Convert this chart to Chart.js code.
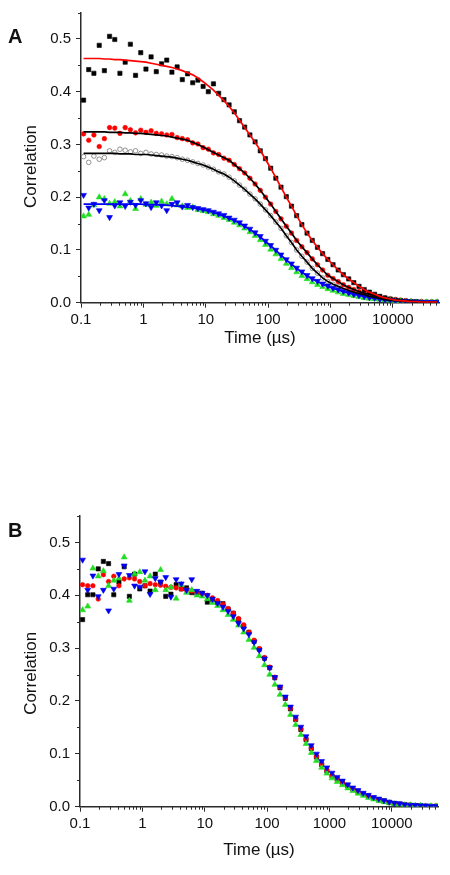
<!DOCTYPE html>
<html>
<head>
<meta charset="utf-8">
<title>Correlation vs time</title>
<script src="https://cdn.jsdelivr.net/npm/chart.js@4.4.1/dist/chart.umd.min.js"></script>
<style>
  html, body { margin: 0; padding: 0; background: #fff; }
  body { width: 450px; height: 875px; position: relative; overflow: hidden; }
  canvas { position: absolute; left: 0; }
  #ch-a { top: 0; }
  #ch-b { top: 460px; }
</style>
</head>
<body>
<canvas id="ch-a" width="450" height="360"></canvas>
<canvas id="ch-b" width="450" height="415"></canvas>
<script>
// lag times (µs), shared by every curve
const tau = [
  0.11, 0.133, 0.161, 0.196, 0.237, 0.287, 0.348, 0.421, 0.511, 0.619, 0.749, 0.908,
  1.1, 1.33, 1.61, 1.96, 2.37, 2.87, 3.48, 4.21, 5.11, 6.19, 7.49, 9.08,
  11, 13.3, 16.1, 19.6, 23.7, 28.7, 34.8, 42.1, 51.1, 61.9, 74.9, 90.8,
  110, 133, 161, 196, 237, 287, 348, 421, 511, 619, 749, 908,
  1100, 1330, 1610, 1960, 2370, 2870, 3480, 4210, 5110, 6190, 7490, 9080,
  11000, 13300, 16100, 19600, 23700, 28700, 34800, 42100, 51100
];

// --- panel A ---
const aSquares = [
  0.384, 0.442, 0.435, 0.488, 0.440, 0.505, 0.499, 0.435, 0.456, 0.490, 0.431, 0.474,
  0.443, 0.466, 0.438, 0.453, 0.460, 0.437, 0.447, 0.423, 0.434, 0.417, 0.422, 0.410,
  0.400, 0.415, 0.397, 0.385, 0.375, 0.362, 0.345, 0.333, 0.318, 0.305, 0.288, 0.273,
  0.255, 0.236, 0.219, 0.201, 0.183, 0.165, 0.148, 0.132, 0.118, 0.105, 0.093, 0.082,
  0.072, 0.062, 0.053, 0.045, 0.038, 0.031, 0.025, 0.020, 0.016, 0.012, 0.009, 0.007,
  0.005, 0.004, 0.003, 0.002, 0.002, 0.001, 0.001, 0.001, 0.001
];
const aFitSquares = [
  0.463, 0.463, 0.463, 0.463, 0.462, 0.462, 0.461, 0.461, 0.460, 0.459, 0.458, 0.457,
  0.456, 0.454, 0.452, 0.450, 0.448, 0.446, 0.443, 0.440, 0.436, 0.432, 0.426, 0.419,
  0.411, 0.403, 0.393, 0.383, 0.372, 0.360, 0.346, 0.332, 0.318, 0.304, 0.289, 0.272,
  0.255, 0.237, 0.219, 0.200, 0.183, 0.165, 0.148, 0.132, 0.118, 0.105, 0.093, 0.082,
  0.072, 0.062, 0.053, 0.045, 0.038, 0.031, 0.025, 0.020, 0.016, 0.012, 0.009, 0.007,
  0.005, 0.004, 0.003, 0.002, 0.002, 0.001, 0.001, 0.001, 0.001
];
const aCircles = [
  0.320, 0.308, 0.318, 0.296, 0.311, 0.332, 0.331, 0.321, 0.332, 0.328, 0.322, 0.327,
  0.323, 0.326, 0.321, 0.320, 0.318, 0.319, 0.313, 0.311, 0.309, 0.303, 0.301, 0.294,
  0.291, 0.284, 0.281, 0.274, 0.270, 0.262, 0.254, 0.246, 0.236, 0.225, 0.213, 0.200,
  0.187, 0.173, 0.159, 0.145, 0.132, 0.118, 0.106, 0.095, 0.083, 0.072, 0.062, 0.052,
  0.046, 0.040, 0.034, 0.029, 0.025, 0.021, 0.018, 0.016, 0.013, 0.011, 0.009, 0.007,
  0.006, 0.005, 0.004, 0.003, 0.002, 0.002, 0.001, 0.001, 0.001
];
const aFitCircles = [
  0.324, 0.324, 0.324, 0.324, 0.324, 0.323, 0.323, 0.323, 0.322, 0.322, 0.321, 0.321,
  0.320, 0.319, 0.318, 0.317, 0.316, 0.314, 0.312, 0.310, 0.308, 0.304, 0.300, 0.295,
  0.290, 0.285, 0.280, 0.275, 0.270, 0.262, 0.254, 0.246, 0.236, 0.225, 0.213, 0.200,
  0.187, 0.173, 0.159, 0.145, 0.132, 0.118, 0.106, 0.095, 0.083, 0.072, 0.062, 0.052,
  0.046, 0.040, 0.034, 0.029, 0.025, 0.021, 0.018, 0.016, 0.013, 0.011, 0.009, 0.007,
  0.006, 0.005, 0.004, 0.003, 0.002, 0.002, 0.001, 0.001, 0.001
];
const aOpen = [
  0.277, 0.266, 0.278, 0.272, 0.275, 0.288, 0.285, 0.291, 0.289, 0.286, 0.288, 0.283,
  0.285, 0.282, 0.281, 0.280, 0.278, 0.277, 0.275, 0.272, 0.270, 0.267, 0.264, 0.261,
  0.257, 0.253, 0.248, 0.244, 0.238, 0.231, 0.223, 0.215, 0.206, 0.197, 0.187, 0.176,
  0.165, 0.153, 0.141, 0.127, 0.114, 0.100, 0.088, 0.077, 0.065, 0.056, 0.047, 0.040,
  0.035, 0.031, 0.027, 0.023, 0.020, 0.017, 0.015, 0.012, 0.010, 0.008, 0.006, 0.005,
  0.004, 0.003, 0.002, 0.002, 0.001, 0.001, 0.001, 0.001, 0.001
];
const aFitOpen = [
  0.283, 0.283, 0.283, 0.283, 0.283, 0.283, 0.283, 0.282, 0.282, 0.282, 0.281, 0.281,
  0.281, 0.280, 0.279, 0.278, 0.277, 0.276, 0.274, 0.272, 0.270, 0.267, 0.264, 0.261,
  0.257, 0.253, 0.248, 0.244, 0.238, 0.231, 0.223, 0.215, 0.206, 0.197, 0.187, 0.176,
  0.165, 0.153, 0.141, 0.127, 0.114, 0.100, 0.088, 0.077, 0.065, 0.056, 0.047, 0.040,
  0.035, 0.031, 0.027, 0.023, 0.020, 0.017, 0.015, 0.012, 0.010, 0.008, 0.006, 0.005,
  0.004, 0.003, 0.002, 0.002, 0.001, 0.001, 0.001, 0.001, 0.001
];
const aGreen = [
  0.164, 0.167, 0.185, 0.200, 0.197, 0.188, 0.191, 0.183, 0.206, 0.193, 0.178, 0.197,
  0.186, 0.190, 0.184, 0.192, 0.187, 0.197, 0.185, 0.183, 0.180, 0.181, 0.176, 0.174,
  0.172, 0.168, 0.165, 0.161, 0.157, 0.152, 0.147, 0.141, 0.134, 0.127, 0.119, 0.110,
  0.101, 0.092, 0.083, 0.074, 0.066, 0.058, 0.051, 0.045, 0.039, 0.034, 0.030, 0.026,
  0.023, 0.020, 0.017, 0.015, 0.013, 0.011, 0.009, 0.008, 0.007, 0.006, 0.005, 0.004,
  0.003, 0.003, 0.002, 0.002, 0.001, 0.001, 0.001, 0.001, 0.001
];
const aBlue = [
  0.204, 0.180, 0.187, 0.175, 0.194, 0.162, 0.184, 0.190, 0.183, 0.191, 0.185, 0.194,
  0.188, 0.181, 0.190, 0.184, 0.175, 0.187, 0.190, 0.182, 0.185, 0.181, 0.179, 0.177,
  0.175, 0.172, 0.169, 0.166, 0.161, 0.157, 0.152, 0.146, 0.140, 0.133, 0.126, 0.117,
  0.109, 0.100, 0.091, 0.082, 0.074, 0.066, 0.059, 0.052, 0.046, 0.041, 0.036, 0.032,
  0.028, 0.025, 0.022, 0.019, 0.016, 0.014, 0.012, 0.010, 0.009, 0.007, 0.006, 0.005,
  0.004, 0.003, 0.003, 0.002, 0.002, 0.001, 0.001, 0.001, 0.001
];
const aFitBlue = [
  0.187, 0.187, 0.187, 0.187, 0.187, 0.187, 0.187, 0.187, 0.187, 0.187, 0.187, 0.187,
  0.186, 0.186, 0.186, 0.185, 0.185, 0.184, 0.183, 0.182, 0.181, 0.180, 0.178, 0.176,
  0.174, 0.171, 0.168, 0.164, 0.160, 0.156, 0.151, 0.145, 0.139, 0.132, 0.125, 0.116,
  0.108, 0.099, 0.090, 0.081, 0.073, 0.065, 0.058, 0.051, 0.045, 0.040, 0.035, 0.031,
  0.027, 0.024, 0.021, 0.018, 0.016, 0.014, 0.012, 0.010, 0.008, 0.007, 0.005, 0.004,
  0.004, 0.003, 0.002, 0.002, 0.001, 0.001, 0.001, 0.001, 0.001
];

// --- panel B (normalised curves) ---
const bBlack = [
  0.354, 0.401, 0.401, 0.450, 0.464, 0.460, 0.401, 0.425, 0.454, 0.398, 0.440, 0.412,
  0.418, 0.408, 0.440, 0.425, 0.398, 0.402, 0.420, 0.412, 0.414, 0.405, 0.404, 0.404,
  0.387, 0.392, 0.386, 0.384, 0.374, 0.366, 0.354, 0.341, 0.330, 0.313, 0.298, 0.281,
  0.263, 0.244, 0.225, 0.205, 0.185, 0.165, 0.146, 0.127, 0.110, 0.094, 0.080, 0.068,
  0.058, 0.052, 0.046, 0.040, 0.034, 0.029, 0.024, 0.020, 0.016, 0.013, 0.011, 0.008,
  0.006, 0.005, 0.004, 0.003, 0.002, 0.002, 0.001, 0.001, 0.001
];
const bRed = [
  0.420, 0.418, 0.418, 0.393, 0.439, 0.426, 0.436, 0.418, 0.431, 0.433, 0.431, 0.426,
  0.418, 0.422, 0.420, 0.419, 0.417, 0.415, 0.414, 0.412, 0.410, 0.408, 0.406, 0.403,
  0.400, 0.395, 0.390, 0.383, 0.375, 0.366, 0.356, 0.344, 0.330, 0.315, 0.299, 0.282,
  0.264, 0.245, 0.226, 0.206, 0.186, 0.166, 0.147, 0.128, 0.111, 0.095, 0.081, 0.069,
  0.059, 0.051, 0.045, 0.039, 0.033, 0.028, 0.023, 0.019, 0.016, 0.013, 0.010, 0.008,
  0.006, 0.005, 0.004, 0.003, 0.002, 0.002, 0.001, 0.001, 0.001
];
const bGreen = [
  0.372, 0.379, 0.451, 0.436, 0.446, 0.418, 0.428, 0.432, 0.472, 0.390, 0.440, 0.444,
  0.428, 0.436, 0.410, 0.448, 0.410, 0.415, 0.394, 0.420, 0.405, 0.410, 0.400, 0.398,
  0.393, 0.386, 0.380, 0.372, 0.363, 0.354, 0.343, 0.330, 0.316, 0.301, 0.285, 0.268,
  0.250, 0.231, 0.212, 0.193, 0.174, 0.155, 0.136, 0.119, 0.102, 0.087, 0.074, 0.063,
  0.054, 0.047, 0.041, 0.035, 0.030, 0.025, 0.021, 0.017, 0.014, 0.011, 0.009, 0.007,
  0.005, 0.004, 0.003, 0.003, 0.002, 0.002, 0.001, 0.001, 0.001
];
const bBlue = [
  0.467, 0.410, 0.437, 0.398, 0.410, 0.371, 0.412, 0.440, 0.456, 0.438, 0.418, 0.416,
  0.445, 0.402, 0.432, 0.425, 0.434, 0.397, 0.430, 0.422, 0.410, 0.430, 0.408, 0.404,
  0.400, 0.393, 0.385, 0.378, 0.370, 0.360, 0.347, 0.337, 0.326, 0.311, 0.296, 0.280,
  0.263, 0.245, 0.227, 0.208, 0.189, 0.170, 0.151, 0.133, 0.116, 0.100, 0.086, 0.074,
  0.064, 0.056, 0.049, 0.042, 0.036, 0.031, 0.026, 0.022, 0.018, 0.015, 0.012, 0.009,
  0.007, 0.006, 0.004, 0.003, 0.003, 0.002, 0.002, 0.001, 0.001
];

// axis ticks
const xMajor = [0.1, 1, 10, 100, 1000, 10000];
const xMinorSteps = [2, 3, 4, 5, 6, 7, 8, 9];
const yMinor = [0.05, 0.15, 0.25, 0.35, 0.45, 0.55];

const axisColor = '#2a2a2a';
const textColor = '#111';
const fontFamily = "'Liberation Sans', Arial, Helvetica, sans-serif";
const RED = '#ff0000', GREEN = '#22dd22', BLUE = '#0000f0';

function pts(ys) {
  return tau.map((t, i) => ({ x: t, y: ys[i] }));
}

function markers(label, ys, style, color, radius, extra) {
  return Object.assign({
    label,
    data: pts(ys),
    showLine: false,
    pointStyle: style,
    pointRadius: radius,
    pointBackgroundColor: color,
    pointBorderColor: color,
    pointBorderWidth: 0.6,
  }, extra || {});
}

function fitLine(label, ys, color) {
  return {
    label,
    data: pts(ys),
    showLine: true,
    borderColor: color,
    borderWidth: 1.7,
    pointRadius: 0,
    tension: 0,
  };
}

// minor ticks, rotated y title and the panel letter
function decor(geo) {
  return {
    id: 'decor',
    afterDraw(chart) {
      const { ctx, scales: { x, y } } = chart;
      ctx.save();
      ctx.strokeStyle = axisColor;
      ctx.lineWidth = 1;
      ctx.beginPath();
      xMajor.forEach(d => xMinorSteps.forEach(m => {
        const v = d * m;
        if (v > x.max) return;
        const px = Math.round(x.getPixelForValue(v)) + 0.5;
        ctx.moveTo(px, y.bottom);
        ctx.lineTo(px, y.bottom + 3);
      }));
      yMinor.forEach(v => {
        const py = Math.round(y.getPixelForValue(v)) + 0.5;
        ctx.moveTo(x.left - 3, py);
        ctx.lineTo(x.left, py);
      });
      ctx.stroke();

      ctx.fillStyle = textColor;
      ctx.textAlign = 'center';
      ctx.textBaseline = 'middle';
      ctx.font = '17px ' + fontFamily;
      ctx.translate(geo.yTitleX, geo.yTitleY);
      ctx.rotate(-Math.PI / 2);
      ctx.fillText('Correlation', 0, 0);
      ctx.setTransform(1, 0, 0, 1, 0, 0);

      ctx.textAlign = 'left';
      ctx.textBaseline = 'alphabetic';
      ctx.font = 'bold 20px ' + fontFamily;
      ctx.fillText(geo.letter, 8, geo.letterY);
      ctx.restore();
    },
  };
}

function makePanel(id, geo, datasets) {
  const tickFont = { family: fontFamily, size: 15 };
  return new Chart(document.getElementById(id), {
    type: 'scatter',
    data: { datasets },
    options: {
      responsive: false,
      animation: false,
      events: [],
      layout: { padding: { top: geo.top, right: geo.right, left: 0, bottom: 0 } },
      plugins: { legend: { display: false }, tooltip: { enabled: false } },
      scales: {
        x: {
          type: 'logarithmic',
          min: 0.1,
          max: 55000,
          afterBuildTicks: s => { s.ticks = xMajor.map(v => ({ value: v })); },
          afterFit: s => { s.height = geo.xHeight; s.paddingLeft = 0; s.paddingRight = 0; },
          grid: { drawOnChartArea: false, drawTicks: true, tickLength: 5, color: axisColor, lineWidth: 1 },
          border: { display: true, color: axisColor, width: 1.5 },
          ticks: { color: textColor, font: tickFont, padding: 3, maxRotation: 0, autoSkip: false,
                   callback: v => String(v) },
          title: { display: true, text: 'Time (µs)', color: textColor,
                   font: { family: fontFamily, size: 17 }, padding: { top: 0, bottom: geo.xTitlePad } },
        },
        y: {
          min: 0,
          max: 0.55,
          afterFit: s => { s.width = geo.yWidth; s.paddingTop = 0; s.paddingBottom = 0; },
          grid: { drawOnChartArea: false, drawTicks: true, tickLength: 5, color: axisColor, lineWidth: 1 },
          border: { display: true, color: axisColor, width: 1.5 },
          ticks: { stepSize: 0.1, includeBounds: false, color: textColor, font: tickFont, padding: 5,
                   callback: v => v.toFixed(1) },
        },
      },
    },
    plugins: [decor(geo)],
  });
}

// first dataset is painted on top
makePanel('ch-a',
  { letter: 'A', letterY: 43, top: 12.6, right: 11, yWidth: 81, xHeight: 57.3, xTitlePad: 11.3,
    yTitleX: 31.5, yTitleY: 166.5 },
  [
    fitLine('fit squares', aFitSquares, RED),
    fitLine('fit circles', aFitCircles, '#000'),
    fitLine('fit open', aFitOpen, '#000'),
    fitLine('fit blue', aFitBlue, BLUE),
    markers('blue', aBlue, 'triangle', BLUE, 3.4, { pointRotation: 180 }),
    markers('green', aGreen, 'triangle', GREEN, 3.4),
    markers('squares', aSquares, 'rect', '#000', 3),
    markers('circles', aCircles, 'circle', RED, 2.3),
    markers('open', aOpen, 'circle', '#777', 2.3, { pointBackgroundColor: 'rgba(255,255,255,0)', pointBorderWidth: 0.8 }),
  ]);

makePanel('ch-b',
  { letter: 'B', letterY: 77, top: 56, right: 12, yWidth: 80, xHeight: 68.3, xTitlePad: 14.8,
    yTitleX: 31.5, yTitleY: 213.3 },
  [
    markers('blue', bBlue, 'triangle', BLUE, 3.4, { pointRotation: 180 }),
    markers('green', bGreen, 'triangle', GREEN, 3.4),
    markers('red', bRed, 'circle', RED, 2.3),
    markers('black', bBlack, 'rect', '#000', 3),
  ]);
</script>
</body>
</html>
